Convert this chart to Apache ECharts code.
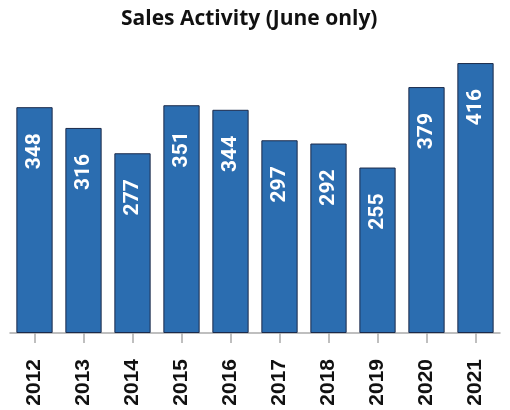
<!DOCTYPE html>
<html>
<head>
<meta charset="utf-8">
<script src="https://cdn.jsdelivr.net/npm/echarts@6/dist/echarts.min.js"></script>
<style>html,body{margin:0;padding:0;background:#fff}#c{width:510px;height:410px}</style>
</head>
<body>
<div id="c"></div>
<script>
const title = 'Sales Activity (June only)';
const categories = ['2012','2013','2014','2015','2016','2017','2018','2019','2020','2021'];
const sales = [348, 316, 277, 351, 344, 297, 292, 255, 379, 416];

const chart = echarts.init(document.getElementById('c'), null, {renderer: 'canvas'});
chart.setOption({
  animation: false,
  backgroundColor: '#ffffff',
  title: {
    text: title,
    left: 116,
    top: 4,
    textStyle: {fontFamily: 'Open Sans', fontWeight: 'bold', fontSize: 21, color: '#111'}
  },
  grid: {left: 10, right: 10, top: 41, bottom: 77, containLabel: false},
  xAxis: {
    type: 'category',
    data: categories,
    axisLine: {lineStyle: {color: '#aaaaaa', width: 1.5}},
    axisTick: {show: true, alignWithLabel: true, length: 10, lineStyle: {color: '#aaaaaa', width: 1.5}},
    axisLabel: {
      rotate: 90, margin: 26, color: '#111',
      fontFamily: 'Liberation Sans', fontWeight: 'bold', fontSize: 21
    }
  },
  yAxis: {
    type: 'value', min: 0, max: 450,
    show: false,
    splitLine: {show: false}
  },
  series: [{
    type: 'bar',
    data: sales,
    barCategoryGap: '26%',
    itemStyle: {color: '#2b6db0', borderColor: '#1b2a4a', borderWidth: 1},
    label: {
      show: true,
      position: 'insideTop',
      distance: 26,
      rotate: 90,
      align: 'right',
      verticalAlign: 'middle',
      color: '#ffffff',
      fontFamily: 'Roboto',
      fontWeight: 'bold',
      fontSize: 21
    }
  }]
});
</script>
</body>
</html>
